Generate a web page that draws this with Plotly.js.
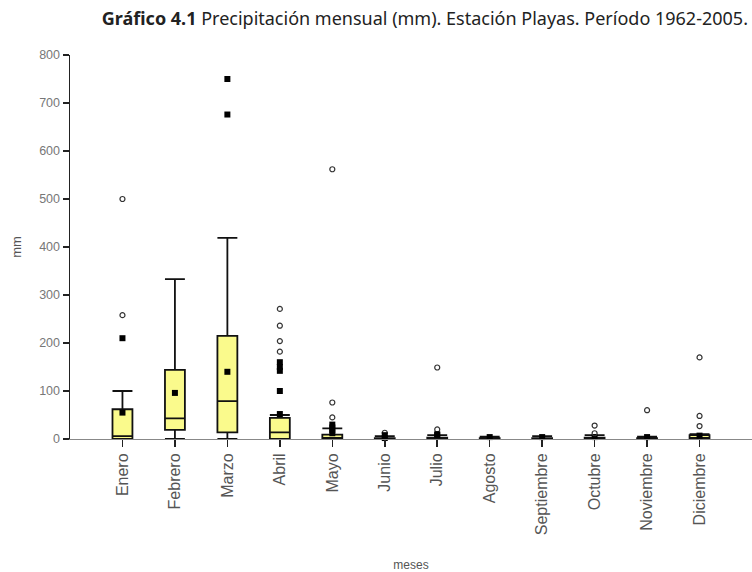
<!DOCTYPE html>
<html>
<head>
<meta charset="utf-8">
<script src="https://cdn.plot.ly/plotly-3.0.1.min.js"></script>
<style>html,body{margin:0;padding:0;background:#fff;}#chart{width:752px;height:572px;}</style>
</head>
<body>
<div id="chart"></div>
<script>
const months = ["Enero","Febrero","Marzo","Abril","Mayo","Junio","Julio","Agosto","Septiembre","Octubre","Noviembre","Diciembre"];
const q1 =         [0, 19, 14, 0, 0, 0, 0, 0, 0, 0, 0, 0];
const medians =    [6, 43, 79, 14, 2, 0, 0, 0, 0, 0, 0, 1];
const q3 =         [62, 144, 215, 44, 9, 2, 3, 2, 2, 3, 2, 8];
const lowerFence = [0, 0, 0, 0, 0, 0, 0, 0, 0, 0, 0, 0];
const upperFence = [100, 333, 419, 50, 22, 6, 8, 5, 6, 8, 5, 10];
const means =      [55, 96, 140, 52, 12, 2, 8, 4, 4, 4, 4, 7];

const mildX = ["Enero","Enero","Abril","Abril","Abril","Abril","Mayo","Mayo","Mayo","Junio","Julio","Julio","Octubre","Octubre","Noviembre","Diciembre","Diciembre","Diciembre"];
const mildY = [500, 258, 271, 236, 204, 182, 562, 76, 45, 13, 149, 20, 28, 12, 60, 170, 48, 27];
const extX = ["Enero","Marzo","Marzo","Abril","Abril","Abril","Abril","Mayo","Mayo","Mayo","Junio","Julio"];
const extY = [210, 750, 676, 160, 150, 142, 100, 30, 24, 18, 8, 10];

const yTicks = [0, 100, 200, 300, 400, 500, 600, 700, 800];

const traces = [
  {
    type: 'box', x: months, q1: q1, median: medians, q3: q3,
    lowerfence: lowerFence, upperfence: upperFence,
    boxpoints: false, width: 0.38, whiskerwidth: 1,
    fillcolor: '#fafa8c', line: {color: '#111', width: 1.8},
    hoverinfo: 'skip', showlegend: false
  },
  {
    type: 'scatter', mode: 'markers', x: months, y: means,
    marker: {symbol: 'square', size: 6, color: '#000'},
    cliponaxis: false, showlegend: false
  },
  {
    type: 'scatter', mode: 'markers', x: mildX, y: mildY,
    marker: {symbol: 'circle-open', size: 5, color: '#333', line: {width: 1.2}},
    cliponaxis: false, showlegend: false
  },
  {
    type: 'scatter', mode: 'markers', x: extX, y: extY,
    marker: {symbol: 'square', size: 6, color: '#000'},
    cliponaxis: false, showlegend: false
  }
];

const layout = {
  width: 752, height: 572,
  margin: {l: 70, r: 0, t: 55, b: 133},
  paper_bgcolor: '#fff', plot_bgcolor: '#fff',
  showlegend: false,
  title: {
    text: '<b>Gráfico 4.1</b> Precipitación mensual (mm). Estación Playas. Período 1962-2005.',
    font: {family: 'Noto Sans, sans-serif', size: 18, color: '#222'},
    xref: 'container', x: 0.565, xanchor: 'center',
    yref: 'container', y: 0.968, yanchor: 'middle'
  },
  xaxis: {
    type: 'category', categoryorder: 'array', categoryarray: months,
    range: [-1, 12], showgrid: false, zeroline: false,
    showline: true, linecolor: '#888', linewidth: 1,
    ticks: 'outside', ticklen: 7, tickcolor: '#222', tickwidth: 1.5,
    tickangle: -90,
    tickfont: {family: 'Liberation Sans, Arial, sans-serif', size: 16, color: '#555'},
    title: {text: 'meses', font: {family: 'Liberation Sans, Arial, sans-serif', size: 12, color: '#555'}, standoff: 30},
    automargin: false
  },
  yaxis: {
    range: [0, 800], tickvals: yTicks, ticktext: yTicks.map(String),
    showgrid: false, zeroline: false,
    showline: true, linecolor: '#222', linewidth: 1.5,
    ticks: 'outside', ticklen: 6, tickcolor: '#222', tickwidth: 1.5,
    tickfont: {family: 'Liberation Sans, Arial, sans-serif', size: 12.5, color: '#777'},
    title: {text: 'mm', font: {family: 'Liberation Sans, Arial, sans-serif', size: 13, color: '#555'}, standoff: 14},
    automargin: false
  }
};

Plotly.newPlot('chart', traces, layout, {displayModeBar: false, staticPlot: true});
</script>
</body>
</html>
